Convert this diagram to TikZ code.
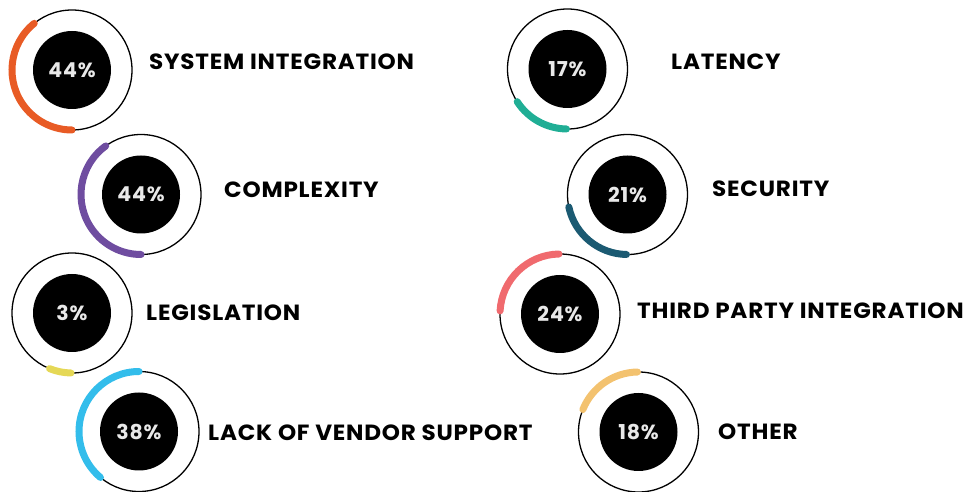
\documentclass[tikz,border=0pt]{standalone}
\usepackage{fontspec}
\setmainfont{Poppins}
\usetikzlibrary{calc}
\definecolor{cOrange}{HTML}{E85B25}
\definecolor{cPurple}{HTML}{6F4DA0}
\definecolor{cYellow}{HTML}{E5D856}
\definecolor{cBlue}{HTML}{33BDEB}
\definecolor{cTeal}{HTML}{20AE95}
\definecolor{cDark}{HTML}{1B5A72}
\definecolor{cRed}{HTML}{F06A6E}
\definecolor{cGold}{HTML}{F3C26F}
\definecolor{pctgray}{HTML}{E8E8E8}
\tikzset{
  ring/.style={circle, draw=black, line width=1.3pt, minimum size=120pt, inner sep=0pt},
  disc/.style={circle, fill=black, minimum size=78pt, inner sep=0pt, text=pctgray,
    font=\fontsize{20.5}{20.5}\selectfont\bfseries\addfontfeatures{LetterSpace=4}},
  lbl/.style={anchor=west, inner sep=0pt, font=\fontsize{22}{22}\selectfont\bfseries\addfontfeatures{FakeStretch=1.05,LetterSpace=3.6}},
  prog/.style={line width=7pt, line cap=round},
}
\newcommand{\progarc}[4]{\draw[prog, #1] ([shift={(#2:60pt)}]#4.center) arc[start angle=#2, end angle=#3, radius=60pt];}
\begin{document}
\begin{tikzpicture}[x=1pt,y=1pt]
\useasboundingbox (0,0) rectangle (966,492);
% circles
\node[ring] (r1) at (72,422) {};
\node[ring] (r2) at (141,297.5) {};
\node[ring] (r3) at (72,179) {};
\node[ring] (r4) at (139,60.5) {};
\node[ring] (r5) at (567.5,423) {};
\node[ring] (r6) at (627.5,297.5) {};
\node[ring] (r7) at (560,178) {};
\node[ring] (r8) at (638.5,60) {};
% arcs
\progarc{cOrange}{129}{270}{r1}
\progarc{cPurple}{126}{270}{r2}
\progarc{cYellow}{248}{269}{r3}
\progarc{cBlue}{90}{230}{r4}
\progarc{cTeal}{213}{269}{r5}
\progarc{cDark}{192}{269}{r6}
\progarc{cRed}{91}{177}{r7}
\progarc{cGold}{91}{158}{r8}
% discs
\node[disc] (d1) at (r1) {44\%};
\node[disc] (d2) at (r2) {44\%};
\node[disc] (d3) at (r3) {3\%};
\node[disc] (d4) at (r4) {38\%};
\node[disc] (d5) at (r5) {17\%};
\node[disc] (d6) at (r6) {21\%};
\node[disc] (d7) at (r7) {24\%};
\node[disc] (d8) at (r8) {18\%};
% labels
\node[lbl] (l1) at (149,430) {SYSTEM INTEGRATION};
\node[lbl] (l2) at (224,302) {COMPLEXITY};
\node[lbl] (l3) at (146,179) {LEGISLATION};
\node[lbl] (l4) at (208,59.5) {LACK OF VENDOR SUPPORT};
\node[lbl] (l5) at (671,430) {LATENCY};
\node[lbl] (l6) at (712,303) {SECURITY};
\node[lbl] (l7) at (637,181.5) {THIRD PARTY INTEGRATION};
\node[lbl] (l8) at (718,60) {OTHER};
\end{tikzpicture}
\end{document}
